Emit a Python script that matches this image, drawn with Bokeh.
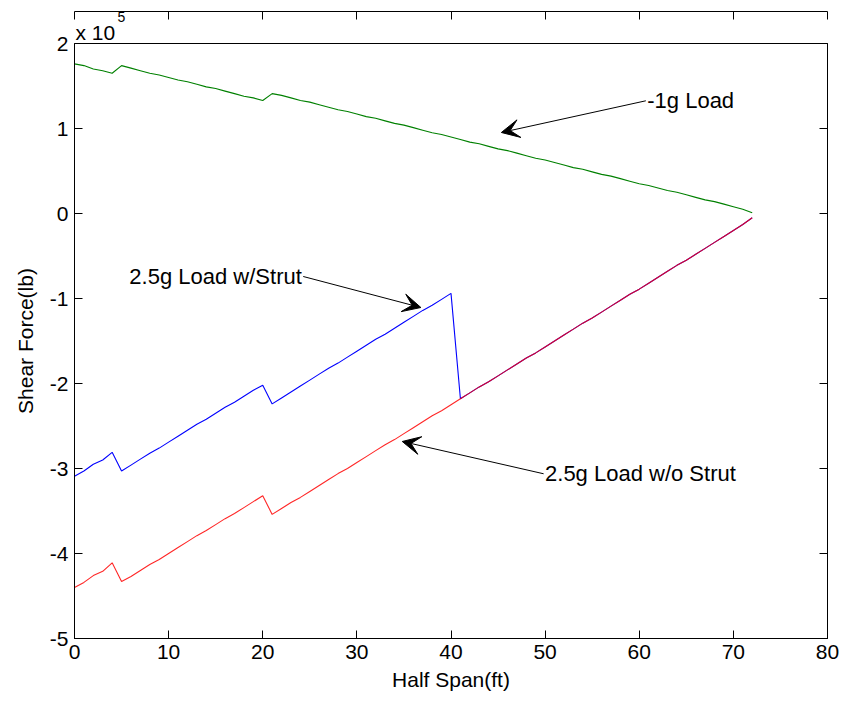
from bokeh.plotting import figure
from bokeh.models import (Range1d, LinearAxis, FixedTicker, Arrow, VeeHead, Label, Title, ColumnDataSource)
from bokeh.embed import file_html
from bokeh.resources import INLINE

# Half span positions (ft)
span_ft = list(range(0, 73))

# Shear force values in units of 1e5 lb
load_neg1g = [1.76, 1.74, 1.70, 1.68, 1.65, 1.74, 1.71, 1.68, 1.65, 1.63,
              1.60, 1.57, 1.55, 1.52, 1.49, 1.47, 1.44, 1.41, 1.38, 1.36,
              1.33, 1.41, 1.39, 1.36, 1.33, 1.31, 1.28, 1.25, 1.22, 1.20,
              1.17, 1.14, 1.12, 1.09, 1.06, 1.04, 1.01, 0.98, 0.95, 0.93,
              0.90, 0.87, 0.84, 0.82, 0.79, 0.76, 0.74, 0.71, 0.68, 0.65,
              0.63, 0.60, 0.57, 0.54, 0.52, 0.49, 0.46, 0.44, 0.41, 0.38,
              0.35, 0.33, 0.30, 0.27, 0.25, 0.22, 0.19, 0.16, 0.14, 0.11,
              0.08, 0.05, 0.01]

load_25g_wo_strut = [-4.40, -4.34, -4.26, -4.21, -4.11, -4.33, -4.27, -4.20, -4.13, -4.07,
                     -4.00, -3.93, -3.86, -3.79, -3.73, -3.66, -3.59, -3.53, -3.46, -3.39,
                     -3.32, -3.54, -3.47, -3.40, -3.34, -3.27, -3.20, -3.13, -3.06, -3.00,
                     -2.93, -2.86, -2.79, -2.72, -2.66, -2.59, -2.52, -2.45, -2.38, -2.32,
                     -2.25, -2.18, -2.11, -2.04, -1.98, -1.91, -1.84, -1.77, -1.70, -1.64,
                     -1.57, -1.50, -1.43, -1.36, -1.29, -1.23, -1.16, -1.09, -1.02, -0.95,
                     -0.89, -0.82, -0.75, -0.68, -0.61, -0.55, -0.48, -0.41, -0.34, -0.27,
                     -0.20, -0.13, -0.05]

load_25g_w_strut = [-3.09, -3.03, -2.95, -2.90, -2.81, -3.03, -2.96, -2.89, -2.82, -2.76,
                    -2.69, -2.62, -2.55, -2.48, -2.42, -2.35, -2.28, -2.22, -2.15, -2.08,
                    -2.02, -2.24, -2.17, -2.10, -2.03, -1.96, -1.89, -1.82, -1.76, -1.69,
                    -1.62, -1.55, -1.48, -1.42, -1.35, -1.28, -1.21, -1.14, -1.08, -1.01,
                    -0.94, -2.18, -2.11, -2.04, -1.98, -1.91, -1.84, -1.77, -1.70, -1.64,
                    -1.57, -1.50, -1.43, -1.36, -1.29, -1.23, -1.16, -1.09, -1.02, -0.95,
                    -0.89, -0.82, -0.75, -0.68, -0.61, -0.55, -0.48, -0.41, -0.34, -0.27,
                    -0.20, -0.13, -0.05]

x_ticks = [0, 10, 20, 30, 40, 50, 60, 70, 80]
y_ticks = [-5, -4, -3, -2, -1, 0, 1, 2]

# annotations: (text, tail_x, tail_y, head_x, head_y, align)
annotations = [
    ("-1g Load", 60.7, 1.326, 45.35, 0.953, "left"),
    ("2.5g Load w/Strut", 24.3, -0.741, 36.8, -1.106, "right"),
    ("2.5g Load w/o Strut", 49.84, -3.062, 34.82, -2.682, "left"),
]

FONT = "Liberation Sans"
FS = "21px"
FS_ANN = "22px"

p = figure(width=843, height=702, output_backend="svg", toolbar_location=None,
           x_range=Range1d(0, 80), y_range=Range1d(-5, 2),
           min_border_left=74, min_border_right=16, min_border_top=43, min_border_bottom=64)
p.background_fill_color = "white"
p.border_fill_color = "white"
p.outline_line_color = "black"
p.outline_line_width = 1
p.xgrid.visible = False
p.ygrid.visible = False

# exponent "x 10^5": superscript row (outer title) above the "x 10" row
p.title.text = "5"
p.title.align = "left"
p.title.offset = 43
p.title.standoff = -21
p.title.text_font = FONT
p.title.text_font_size = "14px"
p.title.text_font_style = "normal"
p.title.text_color = "black"
p.add_layout(Title(text="x 10", align="left", offset=1, standoff=0, text_font=FONT,
                   text_font_size=FS, text_font_style="normal", text_color="black"), "above")

def style_axis(ax, ticks, show_labels=True):
    ax.ticker = FixedTicker(ticks=ticks)
    ax.axis_line_color = "black"
    ax.axis_line_width = 1
    ax.major_tick_in = 8
    ax.major_tick_out = 0
    ax.major_tick_line_color = "black"
    ax.minor_tick_line_color = None
    ax.major_label_text_font = FONT
    if show_labels:
        ax.major_label_text_color = "black"
        ax.major_label_text_font_size = FS
        ax.major_label_overrides = {t: str(t) for t in ticks}
    else:
        ax.major_label_text_color = None
        ax.major_label_text_font_size = "1px"
        ax.major_label_standoff = 0

style_axis(p.xaxis[0], x_ticks)
style_axis(p.yaxis[0], y_ticks)
p.xaxis[0].axis_label = "Half Span(ft)"
p.yaxis[0].axis_label = "Shear Force(lb)"
for ax in (p.xaxis[0], p.yaxis[0]):
    ax.axis_label_text_font = FONT
    ax.axis_label_text_font_size = FS
    ax.axis_label_text_font_style = "normal"
    ax.axis_label_text_color = "black"
p.xaxis[0].axis_label_standoff = 6
p.yaxis[0].axis_label_standoff = 10
p.xaxis[0].major_label_standoff = 6
p.yaxis[0].major_label_standoff = 6

right_ax = LinearAxis()
style_axis(right_ax, y_ticks, show_labels=False)
p.add_layout(right_ax, "right")

# invisible spacer (white outward ticks on white border) lifting the "x 10" row
spacer_ax = LinearAxis()
style_axis(spacer_ax, x_ticks, show_labels=False)
spacer_ax.axis_line_color = None
spacer_ax.major_tick_in = 0
spacer_ax.major_tick_out = 7
spacer_ax.major_tick_line_color = "white"
p.add_layout(spacer_ax, "above")

top_ax = LinearAxis()
style_axis(top_ax, x_ticks, show_labels=False)
p.add_layout(top_ax, "above")

src = ColumnDataSource(dict(x=span_ft, g=load_neg1g, wo=load_25g_wo_strut, w=load_25g_w_strut))
p.line("x", "g", source=src, line_color="#008000", line_width=1.1)
p.line("x", "w", source=src, line_color="#0000ff", line_width=1.1)
p.line("x", "wo", source=src, line_color="#ff0000", line_width=1.1, line_alpha=0.85)

for text, tx, ty, hx, hy, align in annotations:
    p.add_layout(Arrow(end=VeeHead(size=18, fill_color="black", line_color="black", line_width=1),
                       x_start=tx, y_start=ty, x_end=hx, y_end=hy,
                       line_color="black", line_width=1))
    off = 0.15 if align == "left" else -0.15
    p.add_layout(Label(x=tx + off, y=ty, text=text, text_align=align, text_baseline="middle",
                       text_font=FONT, text_font_size=FS_ANN, text_color="black"))

open("out.html", "w").write(file_html(p, INLINE))
